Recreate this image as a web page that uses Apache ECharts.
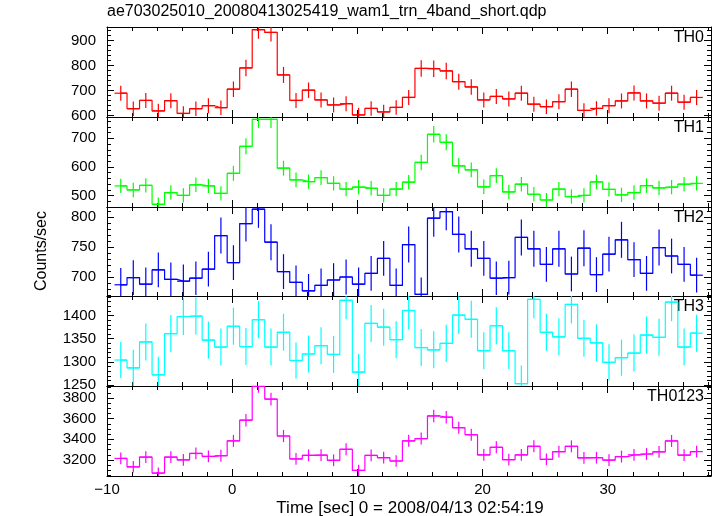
<!DOCTYPE html>
<html><head><meta charset="utf-8">
<script src="https://cdn.jsdelivr.net/npm/echarts@6/dist/echarts.min.js"></script>
<style>html,body{margin:0;padding:0;background:#fff}#c{width:717px;height:516px}</style>
</head><body><div id="c"></div>
<script>
const titleText = 'ae703025010_20080413025419_wam1_trn_4band_short.qdp';
const xLabel = 'Time [sec] 0 = 2008/04/13 02:54:19';
const yLabel = 'Counts/sec';
const bands = ['TH0', 'TH1', 'TH2', 'TH3', 'TH0123'];
const colors = ['#ff0000', '#00ff00', '#0000ff', '#00ffff', '#ff00ff'];

const time = [-8.9,-7.9,-6.9,-5.9,-4.9,-3.9,-2.9,-1.9,-0.9,0.1,1.1,2.1,3.1,4.1,5.1,6.1,7.1,8.1,9.1,10.1,11.1,12.1,13.1,14.1,15.1,16.1,17.1,18.1,19.1,20.1,21.1,22.1,23.1,24.1,25.1,26.1,27.1,28.1,29.1,30.1,31.1,32.1,33.1,34.1,35.1,36.1,37.1];

const th0 = [690,628,661,619,660,609,628,640,632,706,791,944,933,763,661,702,663,643,648,603,629,615,633,673,789,788,779,736,715,663,677,667,690,646,636,656,706,621,629,640,659,691,659,650,690,654,673];
const th0Err = [30,29,30,29,30,29,29,30,29,31,33,36,36,32,30,31,30,30,30,29,29,29,29,30,33,33,33,32,31,30,30,30,30,30,29,30,31,29,29,30,30,30,30,30,30,30,30];
const th1 = [534,520,536,470,511,501,538,534,508,578,672,766,766,596,555,549,563,543,523,530,526,501,523,547,616,714,686,604,590,531,570,513,540,505,485,523,497,501,548,522,503,511,535,527,530,540,543];
const th1Err = [25,25,25,24,25,25,25,25,25,26,28,30,30,26,26,25,26,25,25,25,25,25,25,25,27,29,28,27,26,25,26,25,25,25,24,25,25,25,25,25,25,25,25,25,25,25,25];
const th2 = [687,699,688,712,696,693,698,713,769,724,789,813,758,709,691,677,686,695,700,688,706,731,686,754,671,798,809,771,747,731,698,699,766,747,721,747,705,748,704,738,762,729,706,749,735,721,703];
const th2Err = [28,29,28,29,28,28,28,29,30,29,30,31,30,29,28,28,28,28,29,28,29,29,28,30,28,31,31,30,30,29,28,28,30,30,29,30,29,30,29,29,30,29,29,30,29,29,29];
const th3 = [1304,1287,1343,1272,1361,1398,1399,1347,1332,1377,1333,1391,1332,1364,1303,1317,1335,1316,1433,1278,1383,1375,1348,1411,1331,1326,1340,1401,1392,1324,1378,1324,1253,1435,1364,1354,1424,1351,1341,1299,1309,1319,1358,1353,1429,1332,1362];
const th3Err = [39,39,40,39,40,40,40,40,40,40,40,40,40,40,39,40,40,40,41,39,40,40,40,41,40,40,40,41,40,40,40,40,39,41,40,40,41,40,40,39,39,40,40,40,41,40,40];
const th0123 = [3215,3134,3228,3073,3228,3201,3263,3234,3241,3385,3585,3914,3789,3432,3210,3245,3247,3197,3304,3099,3244,3222,3190,3385,3407,3626,3614,3512,3444,3249,3323,3203,3249,3333,3206,3280,3332,3221,3222,3199,3233,3250,3258,3279,3384,3247,3281];
const th0123Err = [57,56,57,55,57,57,57,57,57,58,60,63,62,59,57,57,57,57,57,56,57,57,56,58,58,60,60,59,59,57,58,57,57,58,57,57,58,57,57,57,57,57,57,57,58,57,57];

const xTicks = [-10, 0, 10, 20, 30];
const xMinor = [-8,-6,-4,-2,2,4,6,8,12,14,16,18,22,24,26,28,32,34,36,38];
const yTicks = [[600,700,800,900],[500,600,700],[700,750,800],[1250,1300,1350,1400],[3200,3400,3600,3800]];
const yMinor = [
  [600,620,640,660,680,700,720,740,760,780,800,820,840,860,880,900,920,940],
  [480,500,520,540,560,580,600,620,640,660,680,700,720,740,760],
  [670,680,690,700,710,720,730,740,750,760,770,780,790,800,810],
  [1250,1260,1270,1280,1290,1300,1310,1320,1330,1340,1350,1360,1370,1380,1390,1400,1410,1420,1430,1440],
  [3050,3100,3150,3200,3250,3300,3350,3400,3450,3500,3550,3600,3650,3700,3750,3800,3850,3900]
];
const yRange = [[594.8,954.8],[460.6,774.2],[668.3,816.7],[1247.9,1442.3],[3045,3916]];

const values = [th0, th1, th2, th3, th0123];
const errors = [th0Err, th1Err, th2Err, th3Err, th0123Err];
const panelTop = [27, 117, 207, 296, 386];
const panelH = [90, 90, 89, 90, 90];

const FONT = 'Liberation Sans';
const chart = echarts.init(document.getElementById('c'), null, {renderer: 'canvas'});
const grids = [], xAxes = [], yAxes = [], series = [], graphics = [];
const plain = v => String(v).replace('-', '\u2212');

for (let i = 0; i < 5; i++) {
  const last = i === 4;
  grids.push({left: 107, width: 604, top: panelTop[i], height: panelH[i]});
  const lineBlack = {show: true, onZero: false, lineStyle: {color: '#000', width: 1}};
  const lineNone = {show: false, onZero: false};
  const xb = {type: 'value', gridIndex: i, min: -10, max: 38.25, splitLine: {show: false}, minorTick: {show: false}};
  const tickMaj = (vals) => ({show: true, inside: true, length: 7, customValues: vals, lineStyle: {color: '#000', width: 1}});
  const tickMin = (vals) => ({show: true, inside: true, length: 4, customValues: vals, lineStyle: {color: '#000', width: 1}});
  xAxes.push(Object.assign({}, xb, {position: 'bottom', axisLine: lineBlack, axisTick: tickMaj(xTicks),
    axisLabel: {show: last, customValues: xTicks, formatter: plain, margin: 6, color: '#000', fontSize: 15, fontFamily: FONT}}));
  xAxes.push(Object.assign({}, xb, {position: 'bottom', axisLine: lineNone, axisTick: tickMin(xMinor), axisLabel: {show: false}}));
  xAxes.push(Object.assign({}, xb, {position: 'top', axisLine: lineBlack, axisTick: tickMaj(xTicks), axisLabel: {show: false}}));
  xAxes.push(Object.assign({}, xb, {position: 'top', axisLine: lineNone, axisTick: tickMin(xMinor), axisLabel: {show: false}}));

  const yb = {type: 'value', gridIndex: i, min: yRange[i][0], max: yRange[i][1], splitLine: {show: false}, minorTick: {show: false}};
  yAxes.push(Object.assign({}, yb, {position: 'left', axisLine: lineBlack, axisTick: tickMaj(yTicks[i]),
    axisLabel: {show: true, customValues: yTicks[i], formatter: plain, margin: 11, color: '#000', fontSize: 15, fontFamily: FONT}}));
  yAxes.push(Object.assign({}, yb, {position: 'left', axisLine: lineNone, axisTick: tickMin(yMinor[i]), axisLabel: {show: false}}));
  yAxes.push(Object.assign({}, yb, {position: 'right', axisLine: lineBlack, axisTick: tickMaj(yTicks[i]), axisLabel: {show: false}}));
  yAxes.push(Object.assign({}, yb, {position: 'right', axisLine: lineNone, axisTick: tickMin(yMinor[i]), axisLabel: {show: false}}));

  const vals = values[i], errs = errors[i];
  const ymin = yRange[i][0], ymax = yRange[i][1];
  series.push({
    type: 'line', xAxisIndex: i * 4, yAxisIndex: i * 4, step: 'middle', showSymbol: false, silent: true,
    data: time.map((t, k) => [t, vals[k]]),
    lineStyle: {color: colors[i], width: 1.2}, animation: false, z: 3
  });
  series.push({
    type: 'custom', xAxisIndex: i * 4, yAxisIndex: i * 4, animation: false, clip: true, silent: true,
    data: time.map((t, k) => [t, vals[k], errs[k]]),
    encode: {x: 0, y: 1},
    renderItem: function (params, api) {
      const t = api.value(0), v = api.value(1), e = api.value(2);
      const vc = Math.min(Math.max(v, ymin), ymax);
      const a = api.coord([t - 0.5, vc]), b = api.coord([t + 0.5, vc]);
      const lo = api.coord([t, Math.max(v - e, ymin)]), hi = api.coord([t, Math.min(v + e, ymax)]);
      const children = [
        {type: 'line', shape: {x1: lo[0], y1: lo[1], x2: hi[0], y2: hi[1]}, style: {stroke: colors[i], lineWidth: 1.2}}
      ];
      if (v >= ymin && v <= ymax) {
        children.push({type: 'line', shape: {x1: a[0], y1: a[1], x2: b[0], y2: b[1]}, style: {stroke: colors[i], lineWidth: 1.2}});
      }
      return {type: 'group', children: children};
    },
    z: 4
  });
  graphics.push({type: 'text', right: 13, top: panelTop[i] + 3,
    style: {text: bands[i], fill: '#000', font: '16px "' + FONT + '"'}});
}

graphics.push({type: 'text', left: 107, top: 4, style: {text: titleText, fill: '#000', font: '16px "' + FONT + '"'}});
graphics.push({type: 'text', x: 410, y: 508, style: {text: xLabel, fill: '#000', font: '17px "' + FONT + '"', align: 'center', verticalAlign: 'middle'}});
graphics.push({type: 'text', x: 42, y: 251, rotation: Math.PI / 2, style: {text: yLabel, fill: '#000', font: '16px "' + FONT + '"', align: 'center', verticalAlign: 'middle'}});

chart.setOption({
  animation: false,
  backgroundColor: '#fff',
  grid: grids, xAxis: xAxes, yAxis: yAxes, series: series, graphic: graphics
});
</script></body></html>
